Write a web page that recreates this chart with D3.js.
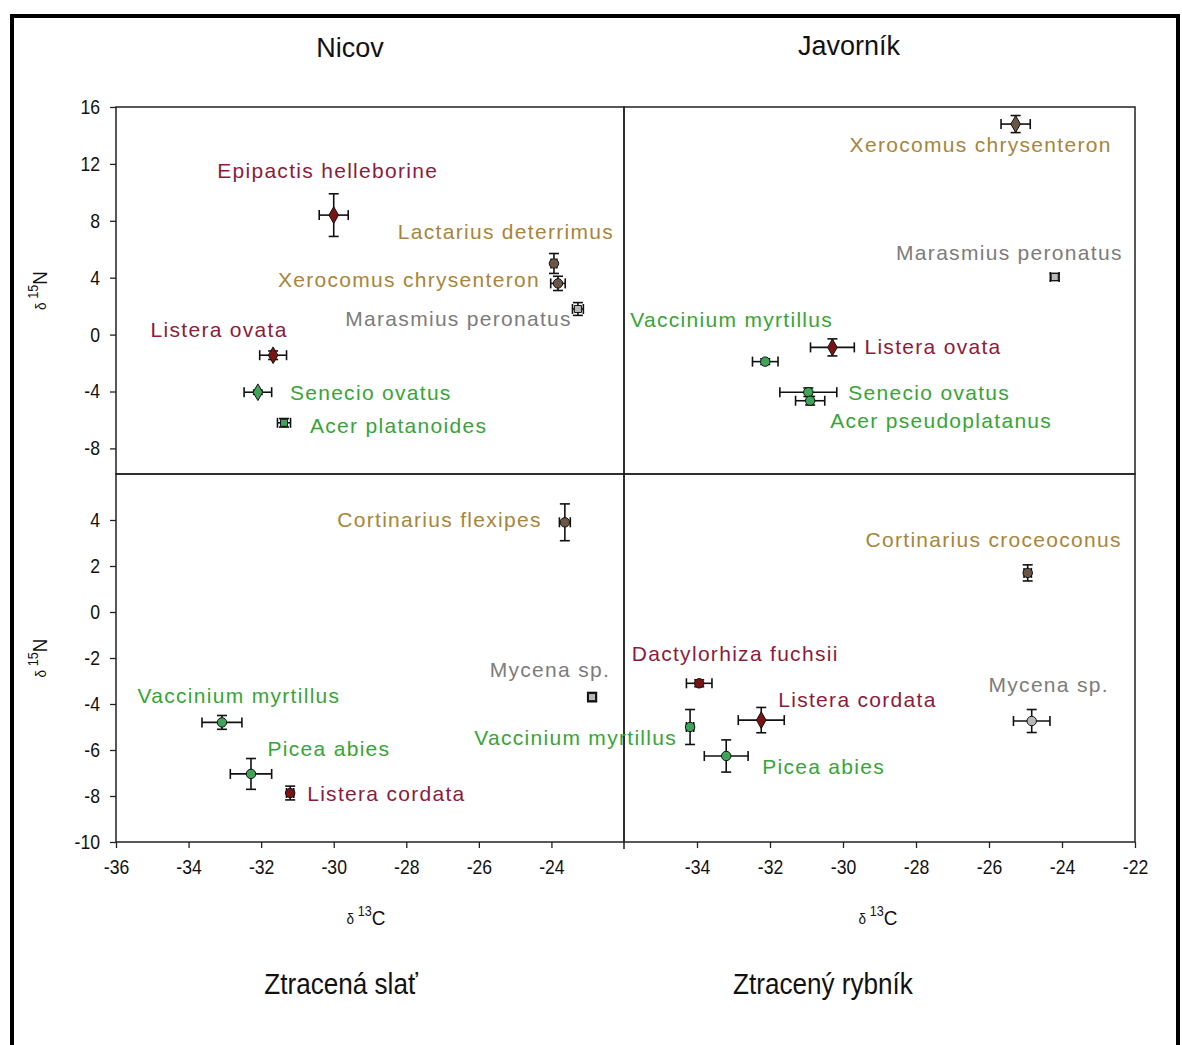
<!DOCTYPE html>
<html lang="en">
<head>
    <meta charset="UTF-8">
    <title>δ13C / δ15N – Nicov, Javorník, Ztracená slať, Ztracený rybník</title>
    <script src="https://d3js.org/d3.v7.min.js"></script>
    <style>
        body { margin: 0; background: #fff; }
        svg text { font-family: "Liberation Sans", Arial, sans-serif; }
        .tick text { font-size: 20px; fill: #111; }
        .tick line { stroke: #222; stroke-width: 1.3; }
        .species { font-size: 21px; letter-spacing: 1.3px; }
    </style>
</head>
<body>
<div id="chart"></div>
<script>
    // ---- data ----
    const sites = ["Nicov", "Javorník", "Ztracená slať", "Ztracený rybník"];

    const nicovSpecies = ["Epipactis helleborine", "Lactarius deterrimus", "Xerocomus chrysenteron", "Marasmius peronatus", "Listera ovata", "Senecio ovatus", "Acer platanoides"];
    const nicovGroup = ["orchid", "ecto", "ecto", "sapro", "orchid", "plant", "plant"];
    const nicovC = [-30.0, -23.93, -23.82, -23.27, -31.67, -32.09, -31.37];
    const nicovN = [8.4, 5.0, 3.6, 1.8, -1.45, -4.05, -6.2];
    const nicovErrC = [0.4, 0.08, 0.2, 0.15, 0.37, 0.38, 0.18];
    const nicovErrN = [1.5, 0.7, 0.5, 0.45, 0.3, 0.15, 0.3];

    const javornikSpecies = ["Xerocomus chrysenteron", "Marasmius peronatus", "Vaccinium myrtillus", "Listera ovata", "Senecio ovatus", "Acer pseudoplatanus"];
    const javornikGroup = ["ecto", "sapro", "plant", "orchid", "plant", "plant"];
    const javornikC = [-25.27, -24.2, -32.13, -30.29, -30.95, -30.9];
    const javornikN = [14.8, 4.05, -1.9, -0.9, -4.05, -4.65];
    const javornikErrC = [0.4, 0.12, 0.35, 0.6, 0.78, 0.4];
    const javornikErrN = [0.6, 0.25, 0.2, 0.6, 0.3, 0.3];

    const slatSpecies = ["Cortinarius flexipes", "Mycena sp.", "Vaccinium myrtillus", "Picea abies", "Listera cordata"];
    const slatGroup = ["ecto", "sapro", "plant", "plant", "orchid"];
    const slatC = [-23.63, -22.88, -33.08, -32.28, -31.2];
    const slatN = [3.9, -3.7, -4.8, -7.04, -7.87];
    const slatErrC = [0.15, 0.12, 0.55, 0.57, 0.1];
    const slatErrN = [0.8, 0.2, 0.3, 0.67, 0.3];

    const rybnikSpecies = ["Cortinarius croceoconus", "Dactylorhiza fuchsii", "Vaccinium myrtillus", "Listera cordata", "Picea abies", "Mycena sp."];
    const rybnikGroup = ["ecto", "orchid", "plant", "orchid", "plant", "sapro"];
    const rybnikC = [-24.94, -33.94, -34.19, -32.24, -33.2, -24.83];
    const rybnikN = [1.7, -3.1, -5.0, -4.7, -6.26, -4.74];
    const rybnikErrC = [0.1, 0.35, 0.1, 0.63, 0.6, 0.5];
    const rybnikErrN = [0.35, 0.15, 0.76, 0.55, 0.7, 0.5];

    const xTicksLeft = [-36, -34, -32, -30, -28, -26, -24];
    const xTicksRight = [-34, -32, -30, -28, -26, -24, -22];
    const yTicksTop = [16, 12, 8, 4, 0, -4, -8];
    const yTicksBottom = [4, 2, 0, -2, -4, -6, -8, -10];

    // ---- label placement (pixel offsets from the point) and marker styles ----
    const nicovLabels = [[-6, -44, "middle"], [-48, -32, "middle"], [-18, -4, "end"], [-6, 10, "end"], [-54, -26, "middle"], [32, 0, "start"], [26, 3, "start"]];
    const javornikLabels = [[-35, 21, "middle"], [68, -24, "end"], [-135, -42, "start"], [32, -1, "start"], [40, 0, "start"], [20, 20, "start"]];
    const slatLabels = [[-23, -3, "end"], [18, -27, "end"], [17, -27, "middle"], [78, -25, "middle"], [17, 1, "start"]];
    const rybnikLabels = [[-34, -33, "middle"], [36, -30, "middle"], [-13, 11, "end"], [17, -20, "start"], [36, 11, "start"], [17, -36, "middle"]];

    const nicovShapes = ["diamond", "circle", "circle", "square", "diamond", "diamond", "square"];
    const javornikShapes = ["diamond", "square", "circle", "diamond", "circle", "circle"];
    const slatShapes = ["circle", "square", "circle", "circle", "circle"];
    const rybnikShapes = ["circle", "circle", "circle", "diamond", "circle", "circle"];

    const labelColor = { orchid: "#8e1a3c", plant: "#36a536", ecto: "#a8853a", sapro: "#7c7c7c" };
    const markerColor = { orchid: "#7a1414", plant: "#3fa35a", ecto: "#6b5645", sapro: "#b8b8b8" };

    // ---- layout ----
    const W = 1182, H = 1045;
    const svg = d3.select("#chart").append("svg").attr("width", W).attr("height", H);

    // outer frame
    svg.append("rect")
        .attr("x", 12).attr("y", 16).attr("width", 1166).attr("height", H + 20)
        .attr("fill", "none").attr("stroke", "#000").attr("stroke-width", 4);

    const xLeft = d3.scaleLinear().domain([-36, -22]).range([116, 624]);
    const xRight = d3.scaleLinear().domain([-36, -22]).range([624, 1135]);
    const yTop = d3.scaleLinear().domain([-9.8, 16]).range([474, 107]);
    const yBottom = d3.scaleLinear().domain([-10, 6]).range([842, 474]);

    const panels = [
        { x: xLeft, y: yTop, species: nicovSpecies, group: nicovGroup, c: nicovC, n: nicovN, ec: nicovErrC, en: nicovErrN, labels: nicovLabels, shapes: nicovShapes },
        { x: xRight, y: yTop, species: javornikSpecies, group: javornikGroup, c: javornikC, n: javornikN, ec: javornikErrC, en: javornikErrN, labels: javornikLabels, shapes: javornikShapes },
        { x: xLeft, y: yBottom, species: slatSpecies, group: slatGroup, c: slatC, n: slatN, ec: slatErrC, en: slatErrN, labels: slatLabels, shapes: slatShapes },
        { x: xRight, y: yBottom, species: rybnikSpecies, group: rybnikGroup, c: rybnikC, n: rybnikN, ec: rybnikErrC, en: rybnikErrN, labels: rybnikLabels, shapes: rybnikShapes }
    ];

    // axes (plain hyphen minus, slightly condensed digits)
    const fmt = d => String(d);
    const narrowY = g => g.selectAll(".tick text").attr("transform", "scale(0.88,1)").attr("x", -16 / 0.88);
    const narrowX = g => g.selectAll(".tick text").attr("transform", "scale(0.88,1)");

    svg.append("g").attr("transform", `translate(${xLeft.range()[0]},0)`)
        .call(d3.axisLeft(yTop).tickValues(yTicksTop).tickFormat(fmt).tickSize(6))
        .call(g => g.select(".domain").remove())
        .call(narrowY);
    svg.append("g").attr("transform", `translate(${xLeft.range()[0]},0)`)
        .call(d3.axisLeft(yBottom).tickValues(yTicksBottom).tickFormat(fmt).tickSize(6))
        .call(g => g.select(".domain").remove())
        .call(narrowY);
    svg.append("g").attr("transform", `translate(0,${yBottom.range()[0]})`)
        .call(d3.axisBottom(xLeft).tickValues(xTicksLeft).tickFormat(fmt).tickSize(6).tickPadding(12))
        .call(g => g.select(".domain").remove())
        .call(narrowX);
    svg.append("g").attr("transform", `translate(0,${yBottom.range()[0]})`)
        .call(d3.axisBottom(xRight).tickValues(xTicksRight).tickFormat(fmt).tickSize(6).tickPadding(12))
        .call(g => g.select(".domain").remove())
        .call(narrowX);

    // panel frames
    panels.forEach(p => {
        svg.append("rect")
            .attr("x", p.x.range()[0]).attr("y", p.y.range()[1])
            .attr("width", p.x.range()[1] - p.x.range()[0])
            .attr("height", p.y.range()[0] - p.y.range()[1])
            .attr("fill", "none").attr("stroke", "#222").attr("stroke-width", 1.5);
    });
    // divider tick below the axis
    svg.append("line")
        .attr("x1", xLeft(-22)).attr("x2", xLeft(-22))
        .attr("y1", yBottom(-10)).attr("y2", yBottom(-10) + 7)
        .attr("stroke", "#222").attr("stroke-width", 1.5);

    const symbolType = { circle: d3.symbolCircle, diamond: d3.symbolDiamond, square: d3.symbolSquare };
    const symbolSize = { circle: 70, diamond: 80, square: 50 };
    const cap = 5;

    panels.forEach(p => {
        const rows = p.species.map((s, i) => ({
            name: s, group: p.group[i], c: p.c[i], n: p.n[i], ec: p.ec[i], en: p.en[i],
            lab: p.labels[i], shape: p.shapes[i]
        }));
        const g = svg.append("g");

        // error bars
        const eb = g.selectAll(".err").data(rows).enter().append("g")
            .attr("stroke", "#111").attr("stroke-width", 1.6).attr("fill", "none");
        eb.append("line")
            .attr("x1", d => p.x(d.c - d.ec)).attr("x2", d => p.x(d.c + d.ec))
            .attr("y1", d => p.y(d.n)).attr("y2", d => p.y(d.n));
        eb.append("line")
            .attr("x1", d => p.x(d.c)).attr("x2", d => p.x(d.c))
            .attr("y1", d => p.y(d.n - d.en)).attr("y2", d => p.y(d.n + d.en));
        [-1, 1].forEach(s => {
            eb.append("line")
                .attr("x1", d => p.x(d.c + s * d.ec)).attr("x2", d => p.x(d.c + s * d.ec))
                .attr("y1", d => p.y(d.n) - cap).attr("y2", d => p.y(d.n) + cap);
            eb.append("line")
                .attr("x1", d => p.x(d.c) - cap).attr("x2", d => p.x(d.c) + cap)
                .attr("y1", d => p.y(d.n + s * d.en)).attr("y2", d => p.y(d.n + s * d.en));
        });

        // markers
        g.selectAll(".pt").data(rows).enter().append("path")
            .attr("d", d => d3.symbol().type(symbolType[d.shape]).size(symbolSize[d.shape])())
            .attr("transform", d => `translate(${p.x(d.c)},${p.y(d.n)})`)
            .attr("fill", d => markerColor[d.group])
            .attr("stroke", "#111").attr("stroke-width", 1);

        // species labels
        g.selectAll(".species").data(rows).enter().append("text")
            .attr("class", "species")
            .attr("x", d => p.x(d.c) + d.lab[0])
            .attr("y", d => p.y(d.n) + d.lab[1])
            .attr("dy", "0.35em")
            .attr("text-anchor", d => d.lab[2])
            .attr("fill", d => labelColor[d.group])
            .text(d => d.name);
    });

    // site titles
    svg.append("text").attr("x", 350).attr("y", 57).attr("text-anchor", "middle")
        .style("font-size", "27px").attr("fill", "#111").text(sites[0]);
    svg.append("text").attr("x", 849).attr("y", 55).attr("text-anchor", "middle")
        .style("font-size", "27px").attr("fill", "#111").text(sites[1]);
    svg.append("text").attr("transform", "translate(341,994) scale(0.9,1)").attr("text-anchor", "middle")
        .style("font-size", "29px").attr("fill", "#111").text(sites[2]);
    svg.append("text").attr("transform", "translate(823,994) scale(0.9,1)").attr("text-anchor", "middle")
        .style("font-size", "29px").attr("fill", "#111").text(sites[3]);

    // axis titles
    function isoLabel(sel, mass, element) {
        sel.append("tspan").style("font-size", "15px").text("δ ");
        sel.append("tspan").style("font-size", "14px").attr("dy", "-0.6em").text(mass);
        sel.append("tspan").style("font-size", "21px").attr("dy", "0.45em").text(element);
    }
    [yTop, yBottom].forEach(sc => {
        const cy = (sc.range()[0] + sc.range()[1]) / 2;
        const t = svg.append("text")
            .attr("transform", `translate(46,${cy}) rotate(-90) scale(0.9,1)`)
            .attr("text-anchor", "middle").attr("fill", "#111");
        isoLabel(t, "15", "N");
    });
    [366, 878].forEach(cx => {
        const t = svg.append("text")
            .attr("transform", `translate(${cx},924) scale(0.9,1)`)
            .attr("text-anchor", "middle").attr("fill", "#111");
        isoLabel(t, "13", "C");
    });
</script>
</body>
</html>
